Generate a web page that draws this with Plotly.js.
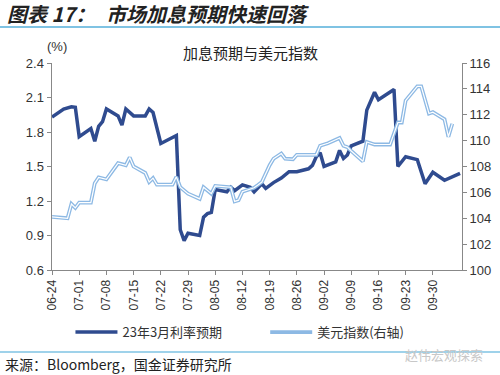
<!DOCTYPE html>
<html>
<head>
<meta charset="utf-8">
<script src="https://cdn.plot.ly/plotly-3.0.1.min.js"></script>
<style>
html,body{margin:0;padding:0;background:#fff;}
#chart{width:500px;height:375px;}
</style>
</head>
<body>
<div id="chart"></div>
<script>
// ---- data ----
const rateDates = ['2022-06-24','2022-06-27','2022-06-29','2022-06-30','2022-07-01','2022-07-04','2022-07-05','2022-07-06','2022-07-07','2022-07-08',
  '2022-07-11','2022-07-12','2022-07-13','2022-07-15','2022-07-18','2022-07-19','2022-07-20','2022-07-22','2022-07-26','2022-07-27',
  '2022-07-28','2022-07-29','2022-08-01','2022-08-02','2022-08-03','2022-08-04','2022-08-05','2022-08-08','2022-08-09','2022-08-10',
  '2022-08-12','2022-08-14','2022-08-15','2022-08-17','2022-08-18','2022-08-20','2022-08-22','2022-08-23','2022-08-24','2022-08-26',
  '2022-08-29','2022-08-30','2022-08-31','2022-09-01','2022-09-02','2022-09-05','2022-09-06','2022-09-07','2022-09-08','2022-09-09',
  '2022-09-12','2022-09-13','2022-09-15','2022-09-16','2022-09-20','2022-09-21','2022-09-23','2022-09-26','2022-09-28','2022-09-30',
  '2022-10-03','2022-10-07'];
const rateValues = [1.93,2.00,2.02,2.015,1.76,1.83,1.72,1.85,1.89,2.00,
  1.94,1.86,2.00,1.94,1.94,2.00,1.97,1.70,1.77,0.95,
  0.855,0.92,0.90,1.06,1.09,1.10,1.30,1.28,1.32,1.29,
  1.34,1.32,1.28,1.35,1.31,1.36,1.40,1.43,1.455,1.455,
  1.48,1.51,1.585,1.62,1.50,1.54,1.64,1.57,1.60,1.68,
  1.72,1.99,2.145,2.08,2.17,1.50,1.585,1.56,1.35,1.45,
  1.38,1.44];

const dxyDates = ['2022-06-24','2022-06-28','2022-06-29','2022-06-30','2022-07-01','2022-07-04','2022-07-05','2022-07-06','2022-07-08','2022-07-11',
  '2022-07-13','2022-07-14','2022-07-15','2022-07-18','2022-07-19','2022-07-20','2022-07-21','2022-07-25','2022-07-26','2022-07-27',
  '2022-07-29','2022-08-01','2022-08-02','2022-08-04','2022-08-05','2022-08-09','2022-08-10','2022-08-11','2022-08-12','2022-08-15',
  '2022-08-16','2022-08-17','2022-08-19','2022-08-20','2022-08-22','2022-08-23','2022-08-25','2022-08-26','2022-08-31','2022-09-01',
  '2022-09-03','2022-09-06','2022-09-07','2022-09-08','2022-09-09','2022-09-12','2022-09-13','2022-09-15','2022-09-19','2022-09-20',
  '2022-09-21','2022-09-22','2022-09-23','2022-09-26','2022-09-27','2022-09-29','2022-09-30','2022-10-03','2022-10-04','2022-10-05'];
const dxyValues = [104.1,104.0,105.1,104.8,105.2,105.2,106.7,107.15,107.0,108.25,
  108.1,108.7,108.0,107.5,106.8,107.1,106.6,106.6,107.2,106.4,
  105.9,105.5,106.4,105.9,106.5,106.4,105.3,105.4,106.05,106.36,
  106.57,106.8,108.1,108.6,109.0,108.6,108.56,108.9,108.9,109.6,
  109.8,110.2,109.6,109.5,109.2,108.4,109.9,109.7,109.7,110.6,
  111.4,111.4,113.1,114.2,114.2,112.1,112.2,111.65,110.3,111.3];

const tickDates = ['2022-06-24','2022-07-01','2022-07-08','2022-07-15','2022-07-22','2022-07-29','2022-08-05','2022-08-12',
  '2022-08-19','2022-08-26','2022-09-02','2022-09-09','2022-09-16','2022-09-23','2022-09-30'];
const tickLabels = ['06-24','07-01','07-08','07-15','07-22','07-29','08-05','08-12','08-19','08-26','09-02','09-09','09-16','09-23','09-30'];

const seriesNames = ['23年3月利率预期','美元指数(右轴)'];
const chartTitle = '加息预期与美元指数';
const headerLabel = '图表 17：';
const headerText = '市场加息预期快速回落';
const sourceText = '来源：Bloomberg，国金证券研究所';
const watermark = '赵伟宏观探索';

// ---- styles ----
const darkBlue = '#2F4B8F';
const lightBlue = '#8DB9E4';
const axisGray = '#888888';
const textColor = '#333333';
const fontFam = '"Liberation Sans", "Noto Sans CJK SC", sans-serif';
const cjkFam = '"Noto Sans CJK SC", "Liberation Sans", sans-serif';

const traces = [
  {x: dxyDates, y: dxyValues, yaxis: 'y2', type: 'scatter', mode: 'lines', name: seriesNames[1],
   line: {color: lightBlue, width: 3.8}, legend: 'legend2'},
  {x: dxyDates, y: dxyValues, yaxis: 'y2', type: 'scatter', mode: 'lines', name: seriesNames[1],
   line: {color: '#ffffff', width: 1.2}, showlegend: false, hoverinfo: 'skip'},
  {x: rateDates, y: rateValues, yaxis: 'y', type: 'scatter', mode: 'lines', name: seriesNames[0],
   line: {color: darkBlue, width: 3.5}, legend: 'legend'}
];

const legendBase = {orientation: 'h', xanchor: 'left', y: -0.3, yanchor: 'middle',
  font: {family: cjkFam, size: 13, color: textColor}, itemwidth: 42, bgcolor: 'rgba(0,0,0,0)'};

const layout = {
  width: 500, height: 375,
  margin: {l: 52, r: 38, t: 63, b: 105, pad: 0},
  paper_bgcolor: '#ffffff', plot_bgcolor: '#ffffff',
  font: {family: fontFam, size: 12, color: textColor},
  showlegend: true,
  legend: Object.assign({}, legendBase, {x: 0.045}),
  legend2: Object.assign({}, legendBase, {x: 0.52}),
  xaxis: {type: 'date', range: ['2022-06-24', '2022-10-07 12:00'], tickmode: 'array',
    tickvals: tickDates, ticktext: tickLabels, tickangle: -90, ticks: 'outside', ticklen: 4,
    tickcolor: axisGray, showline: true, linecolor: axisGray, linewidth: 1, showgrid: false,
    zeroline: false, tickfont: {size: 12, color: textColor}, fixedrange: true},
  yaxis: {range: [0.6, 2.4], tickvals: [0.6,0.9,1.2,1.5,1.8,2.1,2.4],
    ticktext: ['0.6','0.9','1.2','1.5','1.8','2.1','2.4'], ticks: 'outside', ticklen: 4,
    tickcolor: axisGray, showline: true, linecolor: axisGray, linewidth: 1.5, showgrid: false,
    zeroline: false, tickfont: {size: 13, color: textColor}},
  yaxis2: {range: [100, 116], overlaying: 'y', side: 'right', dtick: 2, tick0: 100,
    ticks: 'outside', ticklen: 4, tickcolor: axisGray, showline: true, linecolor: axisGray,
    linewidth: 1, showgrid: false, zeroline: false, tickfont: {size: 13, color: textColor}},
  shapes: [
    {type: 'line', xref: 'paper', yref: 'paper', x0: -0.127, x1: 1.093, y0: 1.174, y1: 1.174,
     line: {color: '#7FC3E3', width: 2}},
    {type: 'line', xref: 'paper', yref: 'paper', x0: -0.127, x1: 1.093, y0: -0.396, y1: -0.396,
     line: {color: '#7FC3E3', width: 1.5}}
  ],
  annotations: [
    {text: '<b><i>' + headerLabel + '</i></b>', xref: 'paper', yref: 'paper', x: -0.115, y: 1.238,
     xanchor: 'left', yanchor: 'middle', showarrow: false, font: {family: cjkFam, size: 20, color: '#222222'}},
    {text: '<b><i>' + headerText + '</i></b>', xref: 'paper', yref: 'paper', x: 0.127, y: 1.238,
     xanchor: 'left', yanchor: 'middle', showarrow: false, font: {family: cjkFam, size: 20, color: '#222222'}},
    {text: chartTitle, xref: 'paper', yref: 'paper', x: 0.483, y: 1.05, xanchor: 'center', yanchor: 'middle',
     showarrow: false, font: {family: cjkFam, size: 15, color: '#222222'}},
    {text: '(%)', xref: 'paper', yref: 'paper', x: 0.012, y: 1.08, xanchor: 'center', yanchor: 'middle',
     showarrow: false, font: {family: fontFam, size: 13, color: textColor}},
    {text: sourceText, xref: 'paper', yref: 'paper', x: -0.12, y: -0.455, xanchor: 'left', yanchor: 'middle',
     showarrow: false, font: {family: cjkFam, size: 14, color: '#222222'}},
    {text: watermark, xref: 'paper', yref: 'paper', x: 1.055, y: -0.41, xanchor: 'right', yanchor: 'middle',
     showarrow: false, font: {family: cjkFam, size: 13, color: '#C8C8C8'}}
  ]
};

Plotly.newPlot('chart', traces, layout, {staticPlot: true, displayModeBar: false});
</script>
</body>
</html>
